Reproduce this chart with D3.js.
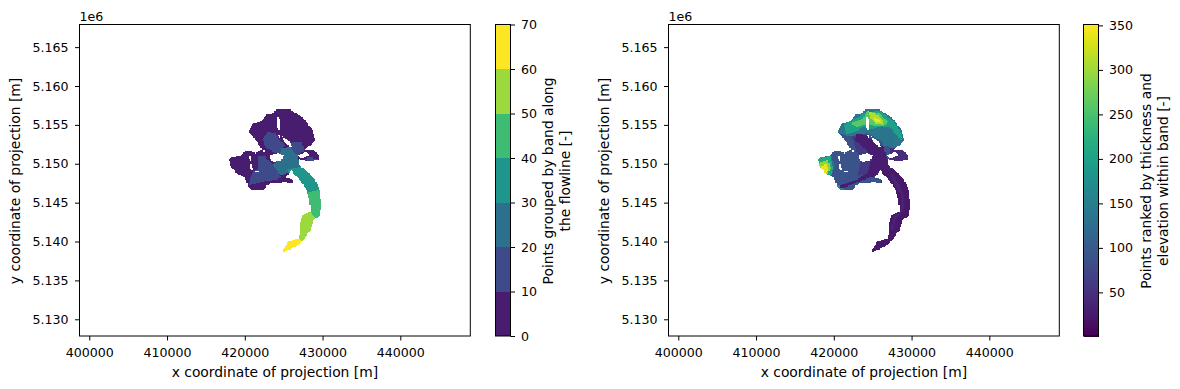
<!DOCTYPE html>
<html>
<head>
<meta charset="utf-8">
<script src="https://cdn.jsdelivr.net/npm/d3@7"></script>
<style>
  body { margin: 0; background: #fff; }
  text { font-family: "DejaVu Sans", sans-serif; font-size: 12.6px; fill: #000; }
  .axis-label { font-size: 13.85px; }
</style>
</head>
<body>
<div id="chart"></div>
<script>
// all map coordinates are km: [x, y]
const xTicks = [400, 410, 420, 430, 440];
const yTicks = [5130, 5135, 5140, 5145, 5150, 5155, 5160, 5165];
const bandTicks = [0, 10, 20, 30, 40, 50, 60, 70];
const rankTicks = [50, 100, 150, 200, 250, 300, 350];
const bandColors = ["#481d6f", "#3f4a8a", "#2d708e", "#1f968b", "#3fbc73", "#9bd93c", "#fde725"];

const glacierOutline = [
  [418.01,5150.57],[418.18,5150.74],[419.38,5151.05],[420.02,5151.56],[420.66,5151.64],[421.31,5151.34],
  [421.95,5151.60],[422.20,5151.90],[421.74,5152.63],[420.88,5153.70],[420.45,5154.13],[420.88,5154.86],
  [421.09,5155.20],[421.95,5155.33],[422.38,5155.85],[422.89,5156.40],[423.67,5156.49],[423.88,5156.92],
  [425.17,5157.00],[426.02,5156.92],[426.58,5156.49],[427.09,5156.15],[427.74,5155.63],[428.17,5154.99],
  [428.60,5154.43],[428.90,5153.70],[429.02,5153.06],[428.38,5152.42],[427.95,5152.12],[427.65,5151.69],
  [428.38,5151.77],[428.89,5151.69],[429.45,5151.13],[429.58,5150.57],[428.38,5150.40],[427.52,5150.49],
  [426.88,5150.70],[427.01,5149.84],[427.74,5149.20],[429.02,5147.91],[429.58,5146.63],[429.80,5144.91],
  [429.67,5143.41],[428.81,5142.77],[428.38,5141.48],[427.31,5139.98],[426.45,5139.34],[424.95,5138.70],
  [424.87,5138.91],[425.59,5139.98],[427.01,5140.41],[427.09,5142.13],[427.44,5143.41],[428.47,5143.84],
  [428.29,5145.34],[427.95,5146.63],[427.09,5147.91],[425.94,5149.20],[425.72,5148.94],[425.29,5148.26],
  [426.24,5147.83],[426.19,5147.49],[425.17,5147.66],[423.24,5147.49],[422.38,5146.71],[420.88,5146.71],
  [420.45,5147.06],[420.02,5148.26],[419.38,5148.56],[418.74,5148.99],[418.09,5149.84]
];

const glacierHoles = [
  [[424.01,5156.15],[424.44,5156.15],[424.61,5154.26],[424.22,5154.26]],
  [[424.65,5153.57],[425.59,5153.14],[426.11,5152.12],[425.51,5152.29],[425.04,5152.85]],
  [[423.24,5151.13],[424.31,5151.43],[424.95,5151.13],[424.74,5150.49],[423.67,5150.27],[423.15,5150.70]],
  [[426.75,5151.00],[427.87,5151.69],[428.38,5151.13],[427.31,5150.70]],
  [[420.58,5149.97],[420.92,5149.89],[421.09,5149.20],[420.75,5149.29]],
  [[421.31,5149.12],[421.78,5149.03],[421.78,5148.86],[421.31,5148.90]],
  [[422.29,5151.77],[422.55,5151.77],[422.64,5151.43],[422.38,5151.43]],
  [[420.41,5151.05],[420.75,5150.96],[420.88,5150.40],[420.58,5150.49]],
  [[424.31,5153.70],[424.61,5153.62],[424.65,5153.19],[424.35,5153.27]],
  [[422.72,5147.27],[423.15,5147.27],[423.02,5146.97],[422.72,5146.97]]
];

// left map: band zones, painted in order over the 0-10 band
const bandValues = [15, 15, 15, 15, 25, 35, 45, 55, 65];
const bandZones = [
  [[422.29,5153.27],[423.02,5154.13],[423.88,5154.00],[424.31,5153.27],[425.17,5152.42],[424.74,5151.99],[424.52,5151.13],[423.67,5151.56],[422.59,5152.20]],
  [[421.74,5150.92],[422.59,5151.05],[423.02,5150.49],[423.67,5149.84],[424.31,5148.77],[424.74,5148.26],[424.09,5148.00],[422.59,5147.83],[421.52,5147.49],[420.54,5147.27],[420.66,5148.13],[421.09,5148.99],[421.74,5149.42]],
  [[426.02,5152.72],[427.31,5152.85],[427.65,5151.77],[426.75,5151.13],[426.24,5151.56],[425.81,5152.20]],
  [[427.52,5150.57],[428.38,5150.92],[429.45,5150.57],[428.38,5150.40]],
  [[424.74,5151.99],[425.81,5152.20],[426.24,5151.56],[426.75,5151.13],[427.09,5149.63],[425.81,5149.11],[424.74,5148.56],[424.31,5148.77],[423.67,5149.84],[424.52,5151.13]],
  [[425.5,5149.3],[427.09,5149.63],[430.5,5148.0],[430.5,5147.0],[427.7,5146.1],[426.5,5147.3]],
  [[427.6,5146.1],[430.5,5147.0],[430.5,5142.77],[429.32,5142.77],[428.38,5143.76],[427.6,5143.9]],
  [[426.5,5144.5],[428.38,5143.76],[429.32,5142.77],[429.0,5140.0],[427.31,5139.98],[427.01,5140.41],[426.5,5140.6]],
  [[424.0,5138.0],[428.0,5138.0],[427.31,5139.98],[427.01,5140.41],[425.0,5141.0]]
];

// right map: rank zones, painted in order
const rankValues = [90, 140, 135, 200, 260, 310, 345, 130, 210, 290, 340, 230, 170, 45, 60, 28, 24, 34];
const rankZones = [
  [[417.36,5157.78],[429.80,5157.78],[429.80,5150.27],[427.22,5150.27],[425.94,5148.77],[424.22,5146.63],[419.94,5146.63],[417.36,5147.92]],
  [[420.37,5154.13],[421.01,5155.42],[422.72,5156.70],[424.22,5157.35],[426.37,5157.13],[428.08,5155.63],[429.15,5153.92],[429.15,5152.20],[428.08,5152.42],[427.65,5151.99],[426.37,5152.63],[425.94,5153.06],[424.22,5154.00],[422.94,5153.70],[421.87,5153.49]],
  [[426.15,5154.56],[427.44,5154.43],[427.87,5153.06],[427.65,5152.20],[426.37,5152.42],[425.94,5153.70]],
  [[421.22,5154.99],[422.72,5155.85],[424.22,5156.70],[425.94,5156.83],[427.22,5155.85],[428.08,5154.99],[428.72,5153.70],[428.72,5153.06],[428.08,5153.70],[427.22,5154.69],[426.15,5154.86],[424.87,5154.43],[423.80,5154.77],[422.72,5154.13],[421.65,5153.83]],
  [[422.08,5155.20],[423.80,5155.85],[424.22,5156.83],[425.94,5156.49],[427.01,5155.42],[426.37,5154.86],[425.29,5154.86],[424.44,5155.20],[422.94,5154.77]],
  [[424.44,5156.83],[425.42,5156.40],[426.45,5155.55],[426.28,5155.12],[425.29,5155.20],[424.74,5155.85]],
  [[425.08,5156.06],[425.94,5155.63],[426.02,5155.29],[425.34,5155.29]],
  [[417.79,5150.92],[419.51,5151.34],[420.15,5149.84],[419.72,5148.56],[418.65,5147.92],[417.79,5149.20]],
  [[417.88,5150.70],[419.51,5151.00],[419.94,5149.42],[419.42,5148.13],[418.31,5148.00],[417.79,5149.20]],
  [[418.14,5150.14],[419.25,5150.57],[419.59,5149.42],[419.08,5148.43],[418.31,5148.77]],
  [[418.44,5149.84],[419.17,5149.97],[419.34,5149.20],[418.91,5148.69],[418.48,5149.12]],
  [[420.71,5152.63],[421.65,5152.50],[421.57,5151.86],[420.88,5151.94]],
  [[420.15,5147.27],[421.22,5147.27],[421.22,5146.71],[420.15,5146.71]],
  [[427.3,5152.0],[430.0,5152.0],[430.0,5150.0],[427.3,5150.0]],
  [[422.3,5153.5],[424.6,5153.5],[425.2,5150.5],[424.6,5148.9],[423.0,5148.4],[423.4,5150.5]],
  [[422.94,5153.92],[424.22,5153.70],[425.72,5152.63],[426.45,5152.20],[426.72,5150.92],[428.08,5148.77],[429.80,5146.63],[427.80,5146.63],[425.80,5148.56],[424.22,5148.13],[422.08,5147.27],[420.79,5146.85],[420.71,5147.15],[422.94,5148.00],[424.39,5148.95],[424.87,5150.70],[424.44,5151.56],[422.72,5153.06]],
  [[426.0,5149.0],[431.0,5150.0],[431.0,5138.0],[424.0,5138.0],[424.0,5144.0],[426.0,5147.0]],
  [[427.6,5148.9],[428.5,5147.2],[429.0,5146.0],[429.0,5144.0],[428.0,5143.0],[427.6,5141.5],[427.3,5141.5],[427.7,5143.2],[428.6,5144.2],[428.6,5146.0],[428.0,5147.0],[427.2,5148.5]]
];

const xDomain = [398.74, 449.0];
const yDomain = [5127.85, 5167.91];
const bandDomain = [0, 70];
const rankDomain = [1, 351];
const cellKm = 0.15;

const svg = d3.select("#chart").append("svg").attr("width", 1180).attr("height", 389);

const plotTop = 24.5;
const plotBottom = 336;
const labelMid = 181;
const yScale = d3.scaleLinear().domain(yDomain).range([plotBottom, plotTop]);

// rasterise the polygons on a fixed grid so the edges come out blocky like the original
function rasterize(zones, values, baseValue) {
  const cells = [];
  d3.range(417.5, 430.2, cellKm).forEach((cx) => {
    d3.range(5138.4, 5157.4, cellKm).forEach((cy) => {
      const p = [cx + cellKm / 2, cy + cellKm / 2];
      if (!d3.polygonContains(glacierOutline, p)) return;
      if (glacierHoles.some((h) => d3.polygonContains(h, p))) return;
      let v = baseValue;
      zones.forEach((z, i) => {
        if (d3.polygonContains(z, p)) v = values[i];
      });
      cells.push({ x: cx, y: cy, v: v });
    });
  });
  return cells;
}

function drawMap(left, right, cells, color) {
  const xScale = d3.scaleLinear().domain(xDomain).range([left, right]);
  const g = svg.append("g");

  g.selectAll("rect")
    .data(cells)
    .join("rect")
    .attr("x", (d) => xScale(d.x))
    .attr("y", (d) => yScale(d.y + cellKm))
    .attr("width", xScale(cellKm) - xScale(0) + 0.3)
    .attr("height", yScale(0) - yScale(cellKm) + 0.3)
    .attr("fill", (d) => color(d.v))
    .attr("shape-rendering", "crispEdges");

  g.append("rect")
    .attr("x", left)
    .attr("y", plotTop)
    .attr("width", right - left)
    .attr("height", plotBottom - plotTop)
    .attr("fill", "none")
    .attr("stroke", "#000")
    .attr("stroke-width", 1);

  const xAxis = d3.axisBottom(xScale).tickValues(xTicks).tickSize(4.5).tickPadding(7.5)
    .tickFormat((d) => d3.format("d")(d * 1000));
  g.append("g").attr("transform", "translate(0," + plotBottom + ")").call(xAxis)
    .call((s) => s.select(".domain").remove());

  const yAxis = d3.axisLeft(yScale).tickValues(yTicks).tickSize(4.5).tickPadding(6.5)
    .tickFormat((d) => d3.format(".3f")(d / 1000));
  g.append("g").attr("transform", "translate(" + left + ",0)").call(yAxis)
    .call((s) => s.select(".domain").remove());

  g.selectAll("text").style("font-size", "12.6px").style("font-family", '"DejaVu Sans", sans-serif');

  g.append("text").attr("x", left).attr("y", 21).text("1e6");

  g.append("text")
    .attr("class", "axis-label")
    .attr("x", (left + right) / 2)
    .attr("y", 377)
    .attr("text-anchor", "middle")
    .text("x coordinate of projection [m]");

  g.append("text")
    .attr("class", "axis-label")
    .attr("transform", "translate(" + (left - 60) + "," + labelMid + ") rotate(-90)")
    .attr("text-anchor", "middle")
    .text("y coordinate of projection [m]");
}

function drawColorbar(left, scale, ticks, labelLines, labelX) {
  const width = 15;
  const g = svg.append("g");
  const cbAxis = d3.axisRight(scale).tickValues(ticks).tickSize(4.5).tickPadding(6);
  g.append("g").attr("transform", "translate(" + (left + width) + ",0)").call(cbAxis)
    .call((s) => s.select(".domain").remove());
  g.selectAll("text").style("font-size", "12.6px").style("font-family", '"DejaVu Sans", sans-serif');

  labelLines.forEach((line, i) => {
    g.append("text")
      .attr("class", "axis-label")
      .attr("transform", "translate(" + labelX[i] + "," + labelMid + ") rotate(-90)")
      .attr("text-anchor", "middle")
      .text(line);
  });
  return { g: g, width: width };
}

const bandColor = d3.scaleThreshold().domain(bandTicks.slice(1, -1)).range(bandColors);
const rankColor = d3.scaleSequential(d3.interpolateViridis).domain(rankDomain);

drawMap(79.5, 470.3, rasterize(bandZones, bandValues, 5), bandColor);
drawMap(668.5, 1059.3, rasterize(rankZones, rankValues, 90), rankColor);

// left colorbar, one block per band
const bandScale = d3.scaleLinear().domain(bandDomain).range([plotBottom, plotTop]);
const cbLeft = drawColorbar(495.5, bandScale, bandTicks,
  ["Points grouped by band along", "the flowline [-]"], [553, 569.5]);
cbLeft.g.selectAll(".band")
  .data(bandColors)
  .join("rect")
  .attr("class", "band")
  .attr("x", 495.5)
  .attr("y", (d, i) => bandScale(bandTicks[i + 1]))
  .attr("width", cbLeft.width)
  .attr("height", (d, i) => bandScale(bandTicks[i]) - bandScale(bandTicks[i + 1]))
  .attr("fill", (d) => d)
  .attr("shape-rendering", "crispEdges");
cbLeft.g.append("rect").attr("x", 495.5).attr("y", plotTop).attr("width", cbLeft.width)
  .attr("height", plotBottom - plotTop).attr("fill", "none").attr("stroke", "#000");

// right colorbar, continuous
const rankScale = d3.scaleLinear().domain(rankDomain).range([plotBottom, plotTop]);
const cbRight = drawColorbar(1083.5, rankScale, rankTicks,
  ["Points ranked by thickness and", "elevation within band [-]"], [1151, 1167.5]);
cbRight.g.selectAll(".step")
  .data(d3.range(rankDomain[0], rankDomain[1], 1))
  .join("rect")
  .attr("class", "step")
  .attr("x", 1083.5)
  .attr("y", (d) => rankScale(d + 1))
  .attr("width", cbRight.width)
  .attr("height", rankScale(0) - rankScale(1) + 0.5)
  .attr("fill", (d) => rankColor(d))
  .attr("shape-rendering", "crispEdges");
cbRight.g.append("rect").attr("x", 1083.5).attr("y", plotTop).attr("width", cbRight.width)
  .attr("height", plotBottom - plotTop).attr("fill", "none").attr("stroke", "#000");
</script>
</body>
</html>
